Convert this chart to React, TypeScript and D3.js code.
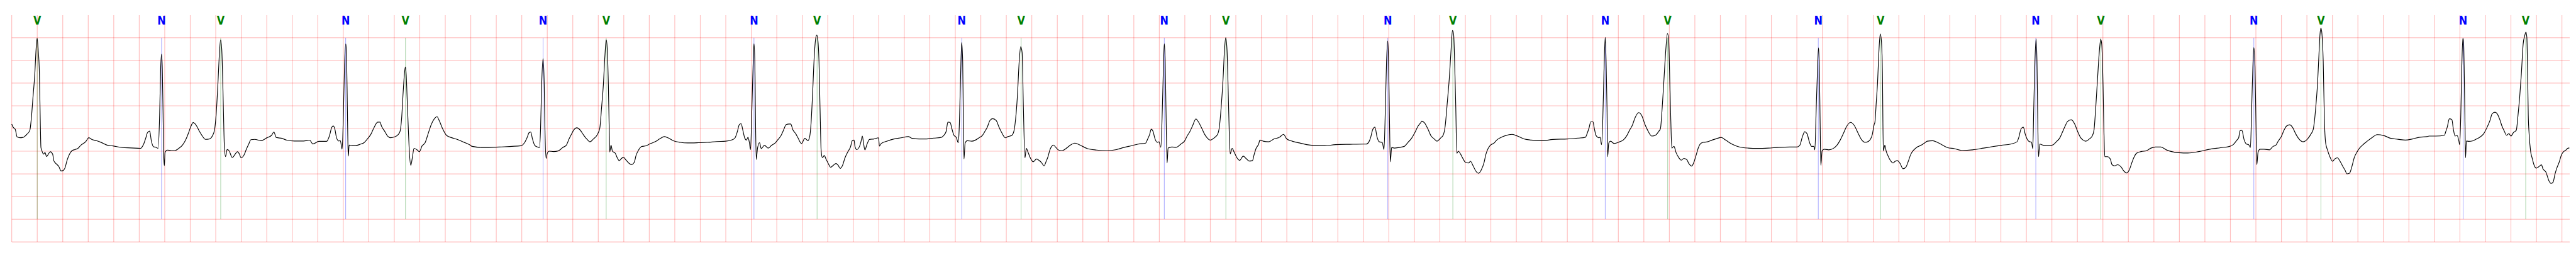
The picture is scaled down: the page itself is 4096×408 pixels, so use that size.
import React from 'react';
import * as d3 from 'd3';

// ---- data (time in s, amplitude in mV) ----
const beatTimes = [0.200, 1.175, 1.639, 2.619, 3.088, 4.167, 4.662, 5.821, 6.316, 7.451, 7.916, 9.039, 9.522,
  10.792, 11.302, 12.497, 12.987, 14.168, 14.656, 15.874, 16.384, 17.584, 18.110, 19.225, 19.716];
const beatLabels = ['V', 'N', 'V', 'N', 'V', 'N', 'V', 'N', 'V', 'N', 'V', 'N', 'V',
  'N', 'V', 'N', 'V', 'N', 'V', 'N', 'V', 'N', 'V', 'N', 'V'];
const labelColors: Record<string, string> = { N: '#0000ff', V: '#008000' };
const voltTicks = [-3, -2.5, -2, -1.5, -1, -0.5, 0, 0.5, 1, 1.5];
const timeDomain = [0, 20.061];
const voltDomain = [-3, 2];
const markerRange = [-2.5, 1.5];

const ecgTrace: [number, number][] = [
  [0.000,-0.402],[0.010,-0.467],[0.028,-0.522],[0.042,-0.685],[0.064,-0.703],[0.088,-0.696],[0.118,-0.630],[0.142,-0.540],[0.154,-0.268],[0.166,0.167],[0.181,0.710],[0.191,1.254],[0.199,1.489],[0.207,1.254],[0.217,0.710],[0.223,-0.196],[0.229,-0.920],[0.235,-0.975],[0.249,-1.065],[0.261,-1.029],[0.273,-1.120],[0.291,-1.047],[0.303,-1.011],[0.321,-1.065],[0.330,-1.210],[0.351,-1.283],[0.369,-1.337],[0.387,-1.435],[0.402,-1.428],[0.417,-1.373],[0.435,-1.192],[0.453,-1.065],[0.471,-0.993],[0.495,-0.964],[0.519,-0.938],[0.543,-0.866],[0.579,-0.793],[0.605,-0.703],[0.627,-0.739],[0.663,-0.768],[0.699,-0.804],[0.747,-0.866],[0.794,-0.884],[0.866,-0.920],[0.938,-0.928],[1.010,-0.938],[1.034,-0.848],[1.052,-0.703],[1.064,-0.594],[1.082,-0.558],[1.094,-0.757],[1.112,-0.902],[1.130,-0.913],[1.148,-0.938],[1.160,-0.196],[1.168,0.819],[1.175,1.138],[1.181,0.819],[1.187,-0.196],[1.192,-1.101],[1.197,-1.319],[1.202,-1.029],[1.220,-0.975],[1.250,-0.986],[1.280,-0.986],[1.310,-0.938],[1.339,-0.866],[1.363,-0.757],[1.387,-0.594],[1.403,-0.467],[1.423,-0.370],[1.447,-0.431],[1.471,-0.558],[1.495,-0.667],[1.519,-0.739],[1.549,-0.732],[1.573,-0.667],[1.591,-0.522],[1.603,-0.196],[1.619,0.601],[1.627,1.072],[1.638,1.453],[1.647,1.254],[1.655,0.529],[1.661,-0.196],[1.667,-0.848],[1.677,-1.120],[1.689,-0.964],[1.705,-0.993],[1.729,-1.138],[1.771,-1.011],
  [1.786,-1.065],[1.798,-1.145],[1.822,-1.083],[1.840,-0.957],[1.858,-0.848],[1.876,-0.746],[1.906,-0.739],[1.954,-0.768],[2.002,-0.703],[2.038,-0.649],[2.056,-0.576],[2.074,-0.696],[2.122,-0.721],[2.158,-0.757],[2.217,-0.775],[2.289,-0.775],[2.337,-0.757],[2.361,-0.841],[2.409,-0.783],[2.469,-0.783],[2.493,-0.649],[2.508,-0.486],[2.521,-0.442],[2.535,-0.522],[2.547,-0.703],[2.565,-0.775],[2.577,-0.768],[2.591,-0.957],[2.601,-0.196],[2.610,0.891],[2.620,1.362],[2.626,1.072],[2.632,-0.014],[2.637,-0.920],[2.640,-1.109],[2.646,-0.866],[2.667,-0.877],[2.697,-0.877],[2.733,-0.848],[2.763,-0.812],[2.792,-0.721],[2.816,-0.630],[2.840,-0.486],[2.870,-0.359],[2.888,-0.359],[2.900,-0.449],[2.924,-0.558],[2.948,-0.667],[2.972,-0.703],[3.002,-0.685],[3.032,-0.630],[3.046,-0.558],[3.058,-0.268],[3.070,0.312],[3.080,0.710],[3.087,0.855],[3.094,0.674],[3.101,0.167],[3.110,-0.486],[3.118,-0.993],[3.130,-1.312],[3.142,-1.138],[3.155,-0.938],[3.176,-0.964],[3.197,-1.011],[3.218,-0.884],[3.242,-0.812],[3.266,-0.612],[3.290,-0.413],[3.314,-0.286],[3.335,-0.239],[3.355,-0.341],[3.379,-0.504],[3.409,-0.649],[3.451,-0.703],[3.499,-0.746],[3.547,-0.804],[3.595,-0.866],
  [3.611,-0.894],[3.696,-0.919],[3.824,-0.907],[3.994,-0.881],[4.023,-0.806],[4.041,-0.705],[4.058,-0.591],[4.070,-0.578],[4.084,-0.730],[4.101,-0.869],[4.122,-0.907],[4.139,-0.919],[4.147,-0.540],[4.156,0.470],[4.167,1.045],[4.176,0.470],[4.182,-0.540],[4.191,-1.159],[4.200,-1.045],[4.214,-1.000],[4.250,-1.008],[4.285,-0.995],[4.321,-0.919],[4.349,-0.869],[4.371,-0.730],[4.389,-0.629],[4.406,-0.540],[4.432,-0.485],[4.456,-0.528],[4.484,-0.641],[4.513,-0.742],[4.534,-0.793],[4.562,-0.730],[4.591,-0.641],[4.612,-0.490],[4.626,-0.035],[4.640,0.470],[4.652,1.101],[4.662,1.455],[4.670,1.278],[4.679,0.470],[4.686,-0.540],[4.690,-1.020],[4.700,-0.869],[4.711,-1.000],[4.733,-1.045],[4.747,-1.134],[4.764,-1.210],[4.778,-1.172],[4.797,-1.134],[4.818,-1.197],[4.844,-1.273],[4.863,-1.293],[4.882,-1.247],[4.896,-1.096],[4.917,-0.970],[4.938,-0.899],[4.974,-0.881],[5.010,-0.831],[5.045,-0.793],[5.081,-0.730],[5.119,-0.679],[5.152,-0.712],[5.187,-0.768],[5.244,-0.806],[5.301,-0.818],[5.386,-0.813],[5.457,-0.806],[5.528,-0.788],[5.599,-0.780],[5.656,-0.742],[5.673,-0.705],[5.691,-0.566],[5.706,-0.414],[5.720,-0.394],[5.734,-0.540],[5.748,-0.705],[5.762,-0.755],[5.774,-0.692],[5.784,-0.793],[5.794,-0.965],[5.805,-0.035],[5.815,0.975],[5.821,1.366],
  [5.828,0.975],[5.832,-0.035],[5.839,-1.184],[5.849,-0.932],[5.865,-0.813],[5.878,-0.944],[5.903,-0.869],[5.932,-0.932],[5.960,-0.869],[5.988,-0.818],[6.010,-0.742],[6.031,-0.667],[6.052,-0.540],[6.074,-0.414],[6.095,-0.402],[6.109,-0.402],[6.126,-0.528],[6.149,-0.616],[6.166,-0.705],[6.194,-0.831],[6.220,-0.717],[6.244,-0.768],[6.258,-0.679],[6.268,-0.414],[6.280,0.217],[6.294,1.101],[6.305,1.480],[6.314,1.556],[6.322,1.455],[6.331,0.975],[6.339,-0.035],[6.348,-0.995],[6.358,-1.146],[6.372,-1.096],[6.386,-1.172],[6.404,-1.273],[6.422,-1.354],[6.443,-1.311],[6.464,-1.273],[6.481,-1.311],[6.498,-1.379],[6.514,-1.323],[6.535,-1.146],[6.556,-1.020],[6.578,-0.907],[6.592,-0.768],[6.606,-0.755],[6.613,-0.894],[6.627,-0.965],[6.649,-0.894],[6.660,-0.793],[6.671,-0.667],[6.680,-0.818],[6.691,-0.970],[6.708,-0.843],[6.727,-0.742],[6.762,-0.730],[6.798,-0.705],[6.805,-0.889],[6.819,-0.831],[6.862,-0.780],[6.919,-0.730],[6.975,-0.705],[7.032,-0.679],[7.061,-0.717],[7.117,-0.730],[7.174,-0.730],[7.231,-0.712],[7.288,-0.697],[7.309,-0.654],[7.328,-0.566],[7.342,-0.359],[7.359,-0.364],[7.373,-0.503],[7.388,-0.641],[7.409,-0.705],[7.423,-0.813],[7.430,-0.540],[7.440,0.470],[7.450,1.399],[7.458,0.975],[7.462,-0.035],[7.468,-1.172],[7.477,-0.818],[7.494,-0.768],[7.529,-0.780],[7.558,-0.755],[7.586,-0.705],[7.612,-0.654],[7.629,-0.578],[7.650,-0.477],[7.671,-0.326],[7.693,-0.283],[7.721,-0.326],[7.742,-0.465],[7.764,-0.591],[7.792,-0.705],[7.813,-0.679],[7.842,-0.654],[7.859,-0.566],[7.873,-0.288],[7.887,0.217],[7.901,0.975],[7.913,1.303],[7.924,1.177],[7.934,-0.035],[7.946,-1.146],[7.957,-0.939],[7.970,-1.020],[7.984,-1.121],[7.998,-1.197],
  [8.011,-1.235],[8.037,-1.172],[8.054,-1.197],[8.075,-1.247],[8.096,-1.323],[8.113,-1.222],[8.127,-1.121],[8.142,-0.970],[8.156,-0.894],[8.170,-0.864],[8.189,-0.919],[8.210,-0.975],[8.238,-0.990],[8.267,-0.944],[8.295,-0.881],[8.338,-0.823],[8.380,-0.869],[8.437,-0.944],[8.508,-0.975],[8.593,-0.990],[8.664,-0.965],[8.721,-0.919],[8.778,-0.881],[8.835,-0.843],[8.892,-0.823],[8.909,-0.730],[8.923,-0.641],[8.937,-0.515],[8.951,-0.566],[8.965,-0.717],[8.984,-0.806],[8.998,-0.793],[9.012,-0.914],[9.024,-0.035],[9.031,0.722],[9.039,1.366],[9.046,0.975],[9.052,-0.035],[9.061,-1.260],[9.069,-0.932],[9.098,-0.907],[9.133,-0.914],[9.169,-0.843],[9.197,-0.780],[9.218,-0.667],[9.240,-0.566],[9.261,-0.439],[9.287,-0.288],[9.306,-0.351],[9.332,-0.490],[9.353,-0.616],[9.375,-0.705],[9.400,-0.755],[9.431,-0.705],[9.457,-0.629],[9.471,-0.465],[9.485,-0.035],[9.500,0.596],[9.511,1.227],[9.521,1.500],[9.531,1.227],[9.539,0.470],[9.548,-0.540],[9.556,-1.058],[9.571,-0.939],[9.587,-1.020],[9.609,-1.146],[9.630,-1.202],[9.658,-1.109],[9.680,-1.159],[9.704,-1.217],[9.730,-1.210],[9.744,-1.071],[9.758,-0.944],[9.779,-0.843],[9.789,-0.755],[9.815,-0.780],[9.857,-0.793],[9.900,-0.730],[9.943,-0.692],[9.974,-0.629],[9.999,-0.730],[10.042,-0.780],[10.099,-0.818],[10.156,-0.856],
  [10.211,-0.874],[10.296,-0.881],[10.382,-0.856],[10.495,-0.848],[10.602,-0.843],[10.623,-0.843],[10.644,-0.793],[10.658,-0.692],[10.673,-0.528],[10.691,-0.470],[10.708,-0.692],[10.725,-0.793],[10.748,-0.806],[10.762,-0.965],[10.773,-0.035],[10.782,0.975],[10.791,1.429],[10.798,0.975],[10.805,-0.288],[10.812,-1.235],[10.822,-0.919],[10.843,-0.932],[10.879,-0.919],[10.921,-0.894],[10.950,-0.806],[10.978,-0.717],[11.004,-0.591],[11.028,-0.452],[11.049,-0.376],[11.059,-0.338],[11.080,-0.376],[11.106,-0.508],[11.132,-0.667],[11.156,-0.730],[11.177,-0.780],[11.205,-0.712],[11.227,-0.641],[11.241,-0.465],[11.259,0.091],[11.274,0.596],[11.288,1.227],[11.299,1.662],[11.308,1.581],[11.316,0.975],[11.325,-0.035],[11.333,-1.045],[11.345,-1.000],[11.364,-1.071],[11.383,-1.172],[11.401,-1.247],[11.426,-1.260],[11.440,-1.222],[11.461,-1.323],[11.482,-1.437],[11.504,-1.487],[11.525,-1.412],[11.547,-1.247],[11.561,-1.071],[11.578,-0.944],[11.596,-0.869],[11.624,-0.823],[11.646,-0.755],[11.674,-0.705],[11.717,-0.654],[11.767,-0.629],[11.809,-0.667],[11.859,-0.730],[11.916,-0.755],[12.001,-0.768],[12.086,-0.742],[12.200,-0.730],[12.285,-0.712],[12.342,-0.692],[12.356,-0.604],[12.370,-0.490],[12.384,-0.351],[12.401,-0.351],
  [12.411,-0.490],[12.425,-0.654],[12.447,-0.705],[12.457,-0.692],[12.468,-0.856],[12.478,-0.288],[12.487,0.722],[12.497,1.510],[12.504,0.975],[12.511,-0.035],[12.516,-1.121],[12.525,-0.818],[12.539,-0.780],[12.567,-0.831],[12.610,-0.793],[12.638,-0.755],[12.667,-0.654],[12.688,-0.540],[12.710,-0.427],[12.731,-0.263],[12.759,-0.149],[12.783,-0.212],[12.809,-0.414],[12.830,-0.540],[12.863,-0.667],[12.894,-0.641],[12.916,-0.566],[12.930,-0.503],[12.944,-0.035],[12.958,0.596],[12.972,1.227],[12.985,1.593],[12.994,1.480],[13.002,0.722],[13.011,-0.288],[13.019,-0.932],[13.036,-0.894],[13.053,-1.033],[13.072,-1.134],[13.093,-1.197],[13.114,-1.159],[13.136,-1.184],[13.153,-1.273],[13.175,-1.328],[13.192,-1.247],[13.209,-1.096],[13.228,-0.919],[13.242,-0.843],[13.264,-0.806],[13.299,-0.793],[13.335,-0.755],[13.377,-0.717],[13.406,-0.697],[13.441,-0.755],[13.491,-0.843],[13.548,-0.907],[13.619,-0.932],[13.690,-0.939],[13.775,-0.932],[13.860,-0.914],[13.945,-0.907],[14.002,-0.907],[14.023,-0.869],[14.045,-0.667],[14.062,-0.571],[14.080,-0.616],[14.099,-0.806],[14.116,-0.894],[14.133,-0.894],[14.141,-0.970],[14.152,-0.035],[14.161,0.722],[14.170,1.278],[14.177,0.722],[14.182,-0.288],[14.188,-1.311],[14.198,-0.995],[14.215,-0.957],[14.250,-0.970],[14.286,-0.939],[14.314,-0.869],[14.340,-0.755],[14.364,-0.616],[14.388,-0.465],[14.421,-0.364],[14.449,-0.427],[14.478,-0.591],[14.506,-0.742],[14.535,-0.806],[14.563,-0.780],[14.591,-0.641],[14.606,-0.414],
  [14.612,-0.364],[14.623,0.091],[14.633,0.520],[14.643,1.177],[14.654,1.586],[14.663,1.429],[14.671,0.722],[14.678,-0.995],[14.690,-0.869],[14.700,-0.995],[14.714,-1.096],[14.732,-1.197],[14.754,-1.260],[14.771,-1.222],[14.789,-1.210],[14.810,-1.273],[14.832,-1.386],[14.853,-1.361],[14.874,-1.222],[14.893,-1.071],[14.910,-0.995],[14.938,-0.919],[14.974,-0.869],[15.002,-0.818],[15.023,-0.780],[15.066,-0.768],[15.101,-0.806],[15.137,-0.856],[15.180,-0.919],[15.236,-0.944],[15.293,-0.982],[15.378,-0.970],[15.464,-0.932],[15.535,-0.899],[15.606,-0.869],[15.677,-0.843],[15.726,-0.793],[15.741,-0.692],[15.759,-0.503],[15.776,-0.470],[15.790,-0.616],[15.805,-0.730],[15.826,-0.793],[15.840,-0.798],[15.850,-0.944],[15.858,-0.035],[15.867,0.975],[15.876,1.475],[15.883,0.975],[15.888,-0.035],[15.895,-1.121],[15.905,-0.843],[15.932,-0.869],[15.975,-0.881],[16.011,-0.856],[16.039,-0.780],[16.060,-0.717],[16.081,-0.591],[16.103,-0.452],[16.124,-0.343],[16.152,-0.308],[16.181,-0.414],[16.202,-0.566],[16.223,-0.692],[16.245,-0.755],[16.266,-0.780],[16.294,-0.730],[16.316,-0.667],[16.330,-0.540],[16.344,-0.035],[16.358,0.596],[16.373,1.227],[16.383,1.467],[16.391,1.354],[16.401,0.470],[16.408,-0.540],[16.415,-1.121],[16.436,-1.121],[16.458,-1.172],[16.472,-1.298],[16.493,-1.323],[16.515,-1.298],[16.543,-1.348],[16.564,-1.437],[16.586,-1.480],[16.607,-1.412],[16.628,-1.247],[16.642,-1.146],[16.664,-1.045],[16.699,-1.008],[16.742,-0.990],[16.777,-0.932],
  [16.812,-0.907],[16.854,-0.907],[16.897,-0.970],[16.939,-1.008],[16.996,-1.033],[17.067,-1.040],[17.152,-1.008],[17.238,-0.957],[17.323,-0.924],[17.394,-0.894],[17.422,-0.856],[17.451,-0.755],[17.465,-0.705],[17.475,-0.553],[17.490,-0.540],[17.507,-0.742],[17.526,-0.843],[17.543,-0.856],[17.557,-0.919],[17.567,-0.035],[17.576,0.848],[17.584,1.283],[17.593,0.848],[17.600,-0.288],[17.607,-1.298],[17.617,-1.020],[17.633,-0.957],[17.664,-0.957],[17.706,-0.970],[17.735,-0.894],[17.756,-0.869],[17.777,-0.768],[17.799,-0.679],[17.820,-0.540],[17.841,-0.444],[17.865,-0.419],[17.888,-0.477],[17.912,-0.616],[17.941,-0.742],[17.969,-0.793],[18.005,-0.730],[18.033,-0.616],[18.050,-0.515],[18.061,-0.288],[18.073,0.091],[18.083,0.470],[18.094,1.101],[18.103,1.581],[18.110,1.712],[18.118,1.581],[18.128,0.975],[18.137,-0.288],[18.147,-0.818],[18.161,-0.970],[18.182,-1.134],[18.201,-1.222],[18.218,-1.172],[18.239,-1.146],[18.260,-1.222],[18.282,-1.336],[18.300,-1.424],[18.314,-1.500],[18.334,-1.487],[18.353,-1.336],[18.371,-1.146],[18.395,-1.008],[18.417,-0.919],[18.445,-0.843],[18.473,-0.780],[18.509,-0.705],[18.551,-0.636],[18.601,-0.654],[18.658,-0.717],[18.715,-0.737],[18.772,-0.755],[18.828,-0.730],[18.885,-0.692],[18.942,-0.679],
  [18.958,-0.667],[19.012,-0.667],[19.079,-0.649],[19.088,-0.576],[19.101,-0.467],[19.117,-0.286],[19.137,-0.304],[19.148,-0.504],[19.162,-0.667],[19.177,-0.649],[19.192,-0.775],[19.198,-0.855],[19.207,-0.196],[19.215,0.891],[19.223,1.489],[19.229,1.399],[19.233,0.891],[19.239,-0.196],[19.244,-1.145],[19.251,-0.775],[19.271,-0.783],[19.298,-0.775],[19.325,-0.739],[19.360,-0.685],[19.387,-0.612],[19.414,-0.467],[19.436,-0.322],[19.452,-0.178],[19.475,-0.141],[19.493,-0.178],[19.513,-0.304],[19.530,-0.449],[19.548,-0.558],[19.566,-0.649],[19.584,-0.612],[19.600,-0.667],[19.620,-0.587],[19.642,-0.540],[19.656,-0.196],[19.669,0.203],[19.682,0.710],[19.696,1.362],[19.708,1.543],[19.718,1.623],[19.725,1.507],[19.732,0.529],[19.736,-0.196],[19.743,-0.630],[19.754,-0.993],[19.767,-1.156],[19.781,-1.301],[19.799,-1.373],[19.821,-1.337],[19.839,-1.301],[19.852,-1.391],[19.875,-1.464],[19.897,-1.645],[19.915,-1.710],[19.931,-1.681],[19.946,-1.500],[19.960,-1.373],[19.978,-1.246],[19.996,-1.083],[20.013,-1.011],[20.031,-0.975],[20.045,-0.938],[20.058,-0.928],
];

// ---- layout ----
const W = 4096;
const H = 408;
const K = 0.544;
const M = { left: 34.3 * K, right: 7511 * K, top: 44 * K, bottom: 706 * K };

export default function App() {
  const x = d3.scaleLinear().domain(timeDomain).range([M.left, M.right]);
  const y = d3.scaleLinear().domain(voltDomain).range([M.bottom, M.top]);
  const timeTicks = d3.range(0, 101).map((i) => i * 0.2);

  const line = d3
    .line<[number, number]>()
    .x((d) => x(d[0]))
    .y((d) => y(d[1]))
    .curve(d3.curveMonotoneX);

  const gridStroke = 'rgba(255,0,0,0.25)';
  const gridW = 1.2;

  return (
    <svg
      width={W}
      height={H}
      viewBox={`0 0 ${W} ${H}`}
      style={{ position: 'absolute', left: 0, top: 0, display: 'block', background: '#ffffff' }}
    >
      <rect x={0} y={0} width={W} height={H} fill="#ffffff" />
      <g>
        {timeTicks.map((t, i) => (
          <line key={`v${i}`} x1={x(t)} x2={x(t)} y1={y(voltDomain[1])} y2={y(voltDomain[0])} stroke={gridStroke} strokeWidth={gridW} />
        ))}
        {voltTicks.map((v, i) => (
          <line key={`h${i}`} x1={x(timeDomain[0])} x2={x(timeDomain[1])} y1={y(v)} y2={y(v)} stroke={gridStroke} strokeWidth={gridW} />
        ))}
      </g>
      <g>
        {beatTimes.map((t, i) => (
          <line
            key={`m${i}`}
            x1={x(t)}
            x2={x(t)}
            y1={y(markerRange[1])}
            y2={y(markerRange[0])}
            stroke={labelColors[beatLabels[i]]}
            strokeOpacity={0.5}
            strokeWidth={0.7}
          />
        ))}
      </g>
      <path d={line(ecgTrace) || ''} fill="none" stroke="#000000" strokeWidth={1.15} strokeLinejoin="round" />
      <g>
        {beatTimes.map((t, i) => (
          <text
            key={`l${i}`}
            transform={`translate(${x(t)},${72 * K}) scale(0.8,1)`}
            textAnchor="middle"
            fontFamily="'DejaVu Sans', sans-serif"
            fontWeight="bold"
            fontSize={20.1}
            fill={labelColors[beatLabels[i]]}
          >
            {beatLabels[i]}
          </text>
        ))}
      </g>
    </svg>
  );
}
